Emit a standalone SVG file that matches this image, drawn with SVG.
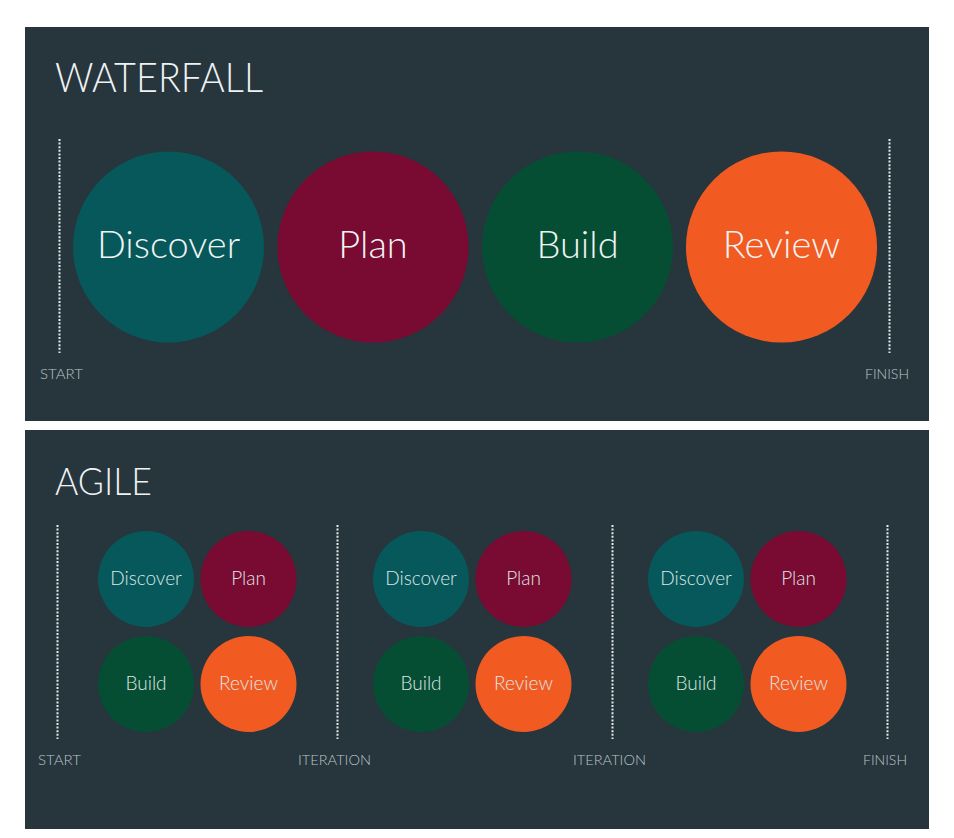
<svg xmlns="http://www.w3.org/2000/svg" width="954" height="838" viewBox="0 0 954 838">
  <style>
    .panel { fill: #27353d; }
    .title { font-family: Lato, "Open Sans", "DejaVu Sans", sans-serif; font-weight: 300; fill: #eef2f3; }
    .lbl { font-family: Lato, "Open Sans", "DejaVu Sans", sans-serif; font-weight: 300; fill: #f1f4f4; text-anchor: middle; }
    .big { font-size: 38px; }
    .small { font-size: 19px; fill: #dfe6e7; }
    .mark { font-family: Lato, "Open Sans", "DejaVu Sans", sans-serif; font-weight: 300; font-size: 14px; fill: #bcc4c7; }
    .dots { stroke: #e6eaeb; stroke-width: 2; stroke-dasharray: 2 1.6; fill: none; }
    .discover { fill: #06585a; }
    .plan { fill: #790a31; }
    .build { fill: #064e33; }
    .review { fill: #f15b22; }
  </style>

  <rect width="954" height="838" fill="#ffffff"/>

  <!-- Waterfall panel -->
  <g id="waterfall">
    <rect class="panel" x="25" y="27" width="904" height="394"/>
    <text class="title" x="55" y="92" font-size="41" textLength="208" lengthAdjust="spacingAndGlyphs">WATERFALL</text>
    <g id="wf-markers">
      <line class="dots" x1="59.5" y1="139" x2="59.5" y2="353"/>
      <line class="dots" x1="889.5" y1="139" x2="889.5" y2="353"/>
      <text class="mark" x="40" y="379" textLength="43" lengthAdjust="spacingAndGlyphs">START</text>
      <text class="mark" x="865" y="379" textLength="44" lengthAdjust="spacingAndGlyphs">FINISH</text>
    </g>
    <g id="wf-discover">
      <circle class="discover" cx="168.5" cy="247" r="95.5"/>
      <text class="lbl big" x="168.5" y="258">Discover</text>
    </g>
    <g id="wf-plan">
      <circle class="plan" cx="373" cy="247" r="95.5"/>
      <text class="lbl big" x="373" y="258">Plan</text>
    </g>
    <g id="wf-build">
      <circle class="build" cx="577.5" cy="247" r="95.5"/>
      <text class="lbl big" x="577.5" y="258">Build</text>
    </g>
    <g id="wf-review">
      <circle class="review" cx="781.5" cy="247" r="95.5"/>
      <text class="lbl big" x="781.5" y="258">Review</text>
    </g>
  </g>

  <!-- Agile panel -->
  <g id="agile">
    <rect class="panel" x="25" y="430" width="904" height="399"/>
    <text class="title" x="55" y="495" font-size="38" textLength="97" lengthAdjust="spacingAndGlyphs">AGILE</text>
    <g id="ag-markers">
      <line class="dots" x1="57.5" y1="525" x2="57.5" y2="739"/>
      <line class="dots" x1="337.5" y1="525" x2="337.5" y2="739"/>
      <line class="dots" x1="612.5" y1="525" x2="612.5" y2="739"/>
      <line class="dots" x1="887.5" y1="525" x2="887.5" y2="739"/>
      <text class="mark" x="38" y="765" textLength="43" lengthAdjust="spacingAndGlyphs">START</text>
      <text class="mark" x="298" y="765" textLength="73" lengthAdjust="spacingAndGlyphs">ITERATION</text>
      <text class="mark" x="573" y="765" textLength="73" lengthAdjust="spacingAndGlyphs">ITERATION</text>
      <text class="mark" x="863" y="765" textLength="44" lengthAdjust="spacingAndGlyphs">FINISH</text>
    </g>

    <g id="it1-discover">
      <circle class="discover" cx="146" cy="579" r="48"/>
      <text class="lbl small" x="146" y="585">Discover</text>
    </g>
    <g id="it1-plan">
      <circle class="plan" cx="248.5" cy="579" r="48"/>
      <text class="lbl small" x="248.5" y="585">Plan</text>
    </g>
    <g id="it1-build">
      <circle class="build" cx="146" cy="684" r="48"/>
      <text class="lbl small" x="146" y="690">Build</text>
    </g>
    <g id="it1-review">
      <circle class="review" cx="248.5" cy="684" r="48"/>
      <text class="lbl small" x="248.5" y="690">Review</text>
    </g>

    <g id="it2-discover">
      <circle class="discover" cx="421" cy="579" r="48"/>
      <text class="lbl small" x="421" y="585">Discover</text>
    </g>
    <g id="it2-plan">
      <circle class="plan" cx="523.5" cy="579" r="48"/>
      <text class="lbl small" x="523.5" y="585">Plan</text>
    </g>
    <g id="it2-build">
      <circle class="build" cx="421" cy="684" r="48"/>
      <text class="lbl small" x="421" y="690">Build</text>
    </g>
    <g id="it2-review">
      <circle class="review" cx="523.5" cy="684" r="48"/>
      <text class="lbl small" x="523.5" y="690">Review</text>
    </g>

    <g id="it3-discover">
      <circle class="discover" cx="696" cy="579" r="48"/>
      <text class="lbl small" x="696" y="585">Discover</text>
    </g>
    <g id="it3-plan">
      <circle class="plan" cx="798.5" cy="579" r="48"/>
      <text class="lbl small" x="798.5" y="585">Plan</text>
    </g>
    <g id="it3-build">
      <circle class="build" cx="696" cy="684" r="48"/>
      <text class="lbl small" x="696" y="690">Build</text>
    </g>
    <g id="it3-review">
      <circle class="review" cx="798.5" cy="684" r="48"/>
      <text class="lbl small" x="798.5" y="690">Review</text>
    </g>
  </g>
</svg>
